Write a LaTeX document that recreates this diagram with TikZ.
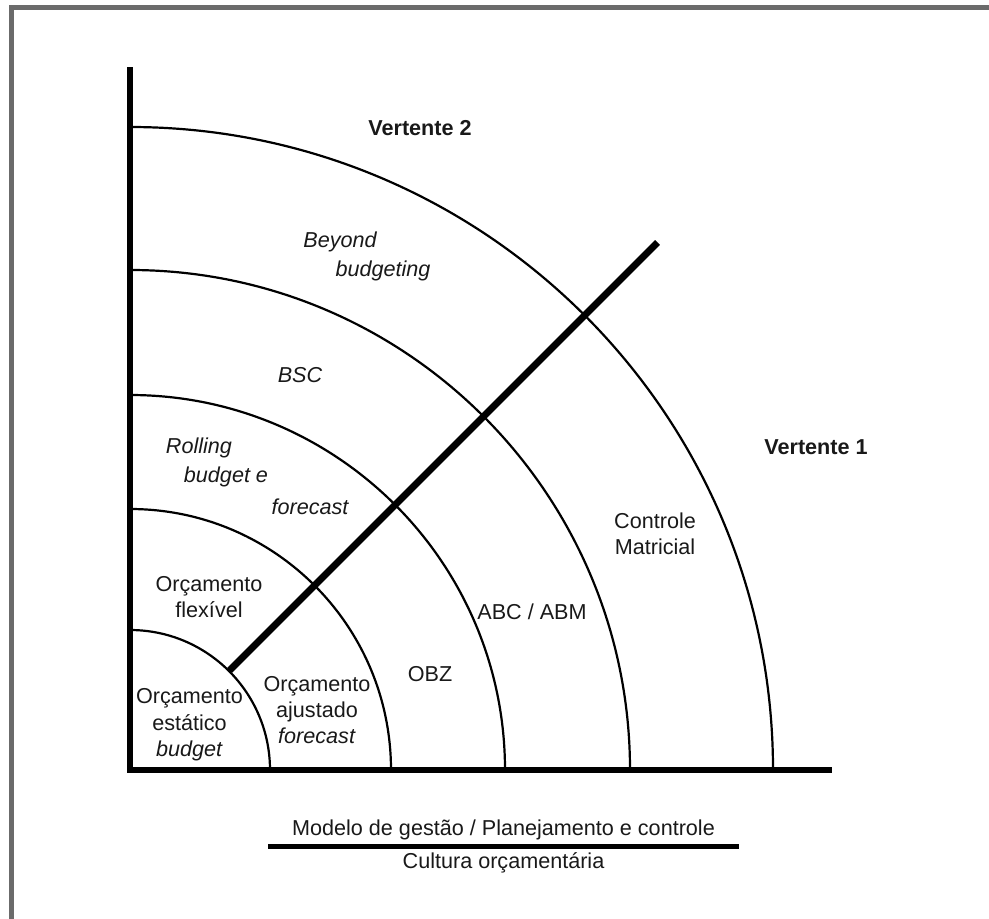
\documentclass[tikz,border=0pt]{standalone}
\usepackage{fontspec}
\setmainfont{Liberation Sans}
\begin{document}
\begin{tikzpicture}[x=0.5pt,y=0.5pt,
  lbl/.style={font=\fontsize{10.8}{13.2}\selectfont, align=center, inner sep=0pt, text=black!90},
  ilbl/.style={lbl, font=\fontsize{10.8}{13.2}\selectfont\itshape},
  blbl/.style={lbl, font=\fontsize{10.8}{13.2}\selectfont\bfseries},
  axis/.style={line width=3pt, line join=miter},
  ring/.style={line width=1.1pt},
  divider/.style={line width=3.5pt},
  frame/.style={line width=2.5pt, draw=black!58}]
\useasboundingbox (-130,-148) rectangle (859,770);

% outer frame (top and left edges)
\draw[frame] (-118.5,-160) |- (880,762.5);

% concentric rings
\foreach \r in {140,261,375,500,643}
  \draw[ring] (\r,0) arc[start angle=0, end angle=90, radius=\r];

% axes
\coordinate (ytop) at (0,703);
\coordinate (orig) at (0,0);
\coordinate (xend) at (702,0);
\draw[axis] (ytop) -- (orig) -- (xend);

% diagonal divider between the two strands
\coordinate (dstart) at (45:141);
\coordinate (dend) at (45:746);
\draw[divider] (dstart) -- (dend);

% strand titles
\node[blbl] (v2) at (290,642) {Vertente 2};
\node[blbl] (v1) at (686,323) {Vertente 1};

% upper strand labels
\node[ilbl] (beyond) at (210,528) {Beyond};
\node[ilbl] (budgeting) at (253,499) {budgeting};
\node[ilbl] (bsc) at (170,395) {BSC};
\node[ilbl] (rolling) at (69,322) {Rolling};
\node[ilbl] (budgete) at (96,293) {budget e};
\node[ilbl] (forecastr) at (180,263) {forecast};
\node[lbl] (flex) at (79,173) {Orçamento\\flexível};

% lower strand labels
\node[lbl] (estatico) at (59.5,45) {Orçamento\\estático\\\textit{budget}};
\node[lbl] (ajustado) at (187,60) {Orçamento\\ajustado\\\textit{forecast}};
\node[lbl] (obz) at (300,96) {OBZ};
\node[lbl] (abc) at (402,158) {ABC / ABM};
\node[lbl] (matricial) at (525,236) {Controle\\Matricial};

% caption with rule
\node[lbl] (modelo) at (373.5,-60) {Modelo de gestão / Planejamento e controle};
\coordinate (rl) at (138,-76);
\coordinate (rr) at (609,-76);
\draw[line width=2.5pt] (rl) -- (rr);
\node[lbl] (cultura) at (373.5,-93) {Cultura orçamentária};
\end{tikzpicture}
\end{document}
